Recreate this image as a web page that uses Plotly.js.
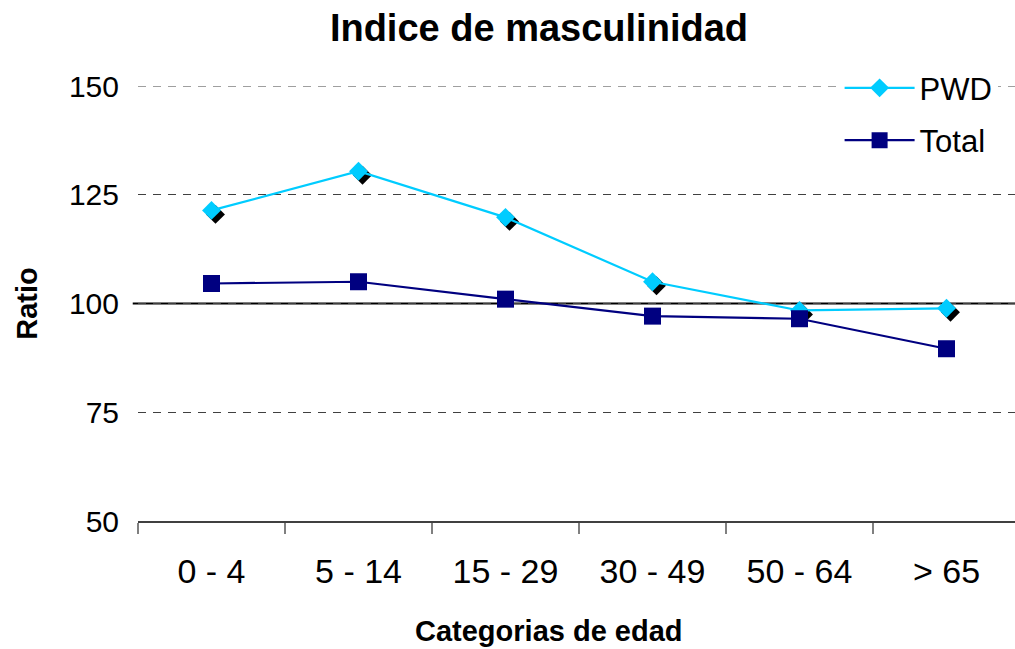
<!DOCTYPE html>
<html>
<head>
<meta charset="utf-8">
<script src="https://cdn.plot.ly/plotly-3.0.1.min.js"></script>
<style>html,body{margin:0;padding:0;background:#fff;}#chart{width:1015px;height:649px;}</style>
</head>
<body>
<div id="chart"></div>
<script>
const categories = ["0 - 4", "5 - 14", "15 - 29", "30 - 49", "50 - 64", "> 65"];
const pwdValues = [121.4, 130.4, 119.8, 105.0, 98.4, 98.9];
const totalValues = [104.6, 105.0, 101.0, 97.1, 96.5, 89.6];
const yTickValues = [50, 75, 100, 125, 150];

const FONT = "Liberation Sans, Arial, sans-serif";
const X_RANGE = [-0.5, 5.466];
const Y_RANGE = [50, 150];
// shadow offset (~4px right, ~4px down) expressed in axis units
const dx = 4 / 147, dy = 4 / 4.34;

const traces = [
  { // shadow of PWD markers, on hidden shifted axes (drawn underneath)
    x: categories, y: pwdValues, xaxis: "x", yaxis: "y",
    mode: "markers", showlegend: false, hoverinfo: "skip",
    marker: {symbol: "diamond", size: 14.5, color: "#000000", line: {width: 0}}
  },
  {
    x: categories, y: pwdValues, xaxis: "x2", yaxis: "y2", name: "PWD",
    mode: "lines+markers", legendgroup: "a",
    line: {color: "#00CCFF", width: 2.2},
    marker: {symbol: "diamond", size: 14.5, color: "#00CCFF", line: {width: 0}}
  },
  {
    x: categories, y: totalValues, xaxis: "x2", yaxis: "y2", name: "Total",
    mode: "lines+markers", legendgroup: "b",
    line: {color: "#000080", width: 2.2},
    marker: {symbol: "square", size: 17, color: "#000080", line: {width: 0}}
  }
];

const layout = {
  width: 1015, height: 649,
  margin: {l: 138, r: 0, t: 86, b: 128},
  paper_bgcolor: "#ffffff", plot_bgcolor: "#ffffff",
  font: {family: FONT, color: "#000000"},
  title: {
    text: "<b>Indice de masculinidad</b>",
    font: {family: FONT, size: 38, color: "#000000"},
    xref: "container", x: 0.531, xanchor: "center",
    yref: "container", y: 0.958, yanchor: "middle"
  },
  xaxis: {
    type: "category", categoryorder: "array", categoryarray: categories,
    range: [X_RANGE[0] - dx, X_RANGE[1] - dx], visible: false, fixedrange: true
  },
  yaxis: {
    range: [Y_RANGE[0] + dy, Y_RANGE[1] + dy], visible: false, fixedrange: true
  },
  xaxis2: {
    overlaying: "x", anchor: "y2", side: "bottom",
    type: "category", categoryorder: "array", categoryarray: categories,
    range: X_RANGE,
    showline: true, linecolor: "#404040", linewidth: 1.5,
    ticks: "outside", tickson: "boundaries", ticklen: 11, tickcolor: "#808080", tickwidth: 1.5,
    showgrid: false, ticklabelstandoff: 20,
    tickfont: {family: FONT, size: 34, color: "#000000"}
  },
  yaxis2: {
    overlaying: "y", anchor: "x2", side: "left",
    range: Y_RANGE, tickvals: yTickValues, ticktext: yTickValues.map(String),
    showline: false, ticks: "", ticklabelstandoff: 18,
    showgrid: true, gridcolor: "#404040", gridwidth: 1, griddash: "8px,7px",
    zeroline: false,
    tickfont: {family: FONT, size: 30, color: "#000000"},
    title: {text: "<b>Ratio</b>", font: {family: FONT, size: 29, color: "#000000"}, standoff: 22}
  },
  annotations: [{
    text: "<b>Categorias de edad</b>", xref: "paper", yref: "paper",
    x: 0.469, y: -0.253, xanchor: "center", yanchor: "middle", showarrow: false,
    font: {family: FONT, size: 29, color: "#000000"}
  }],
  shapes: [
    {type: "line", xref: "paper", yref: "y2", x0: -0.006, x1: 1, y0: 100, y1: 100,
     line: {color: "#000000", width: 2}, layer: "below"},
    {type: "line", xref: "paper", yref: "y2", x0: 0, x1: 1, y0: 150, y1: 150,
     line: {color: "#404040", width: 1, dash: "8px,7px"}, layer: "below"}
  ],
  legend: {
    x: 0.800, y: 1.057, xanchor: "left", yanchor: "top",
    bgcolor: "#ffffff", borderwidth: 0,
    font: {family: FONT, size: 31, color: "#000000"},
    itemwidth: 70, tracegroupgap: 9, traceorder: "grouped"
  },
  showlegend: true
};

Plotly.newPlot("chart", traces, layout, {displayModeBar: false, staticPlot: true});
</script>
</body>
</html>
